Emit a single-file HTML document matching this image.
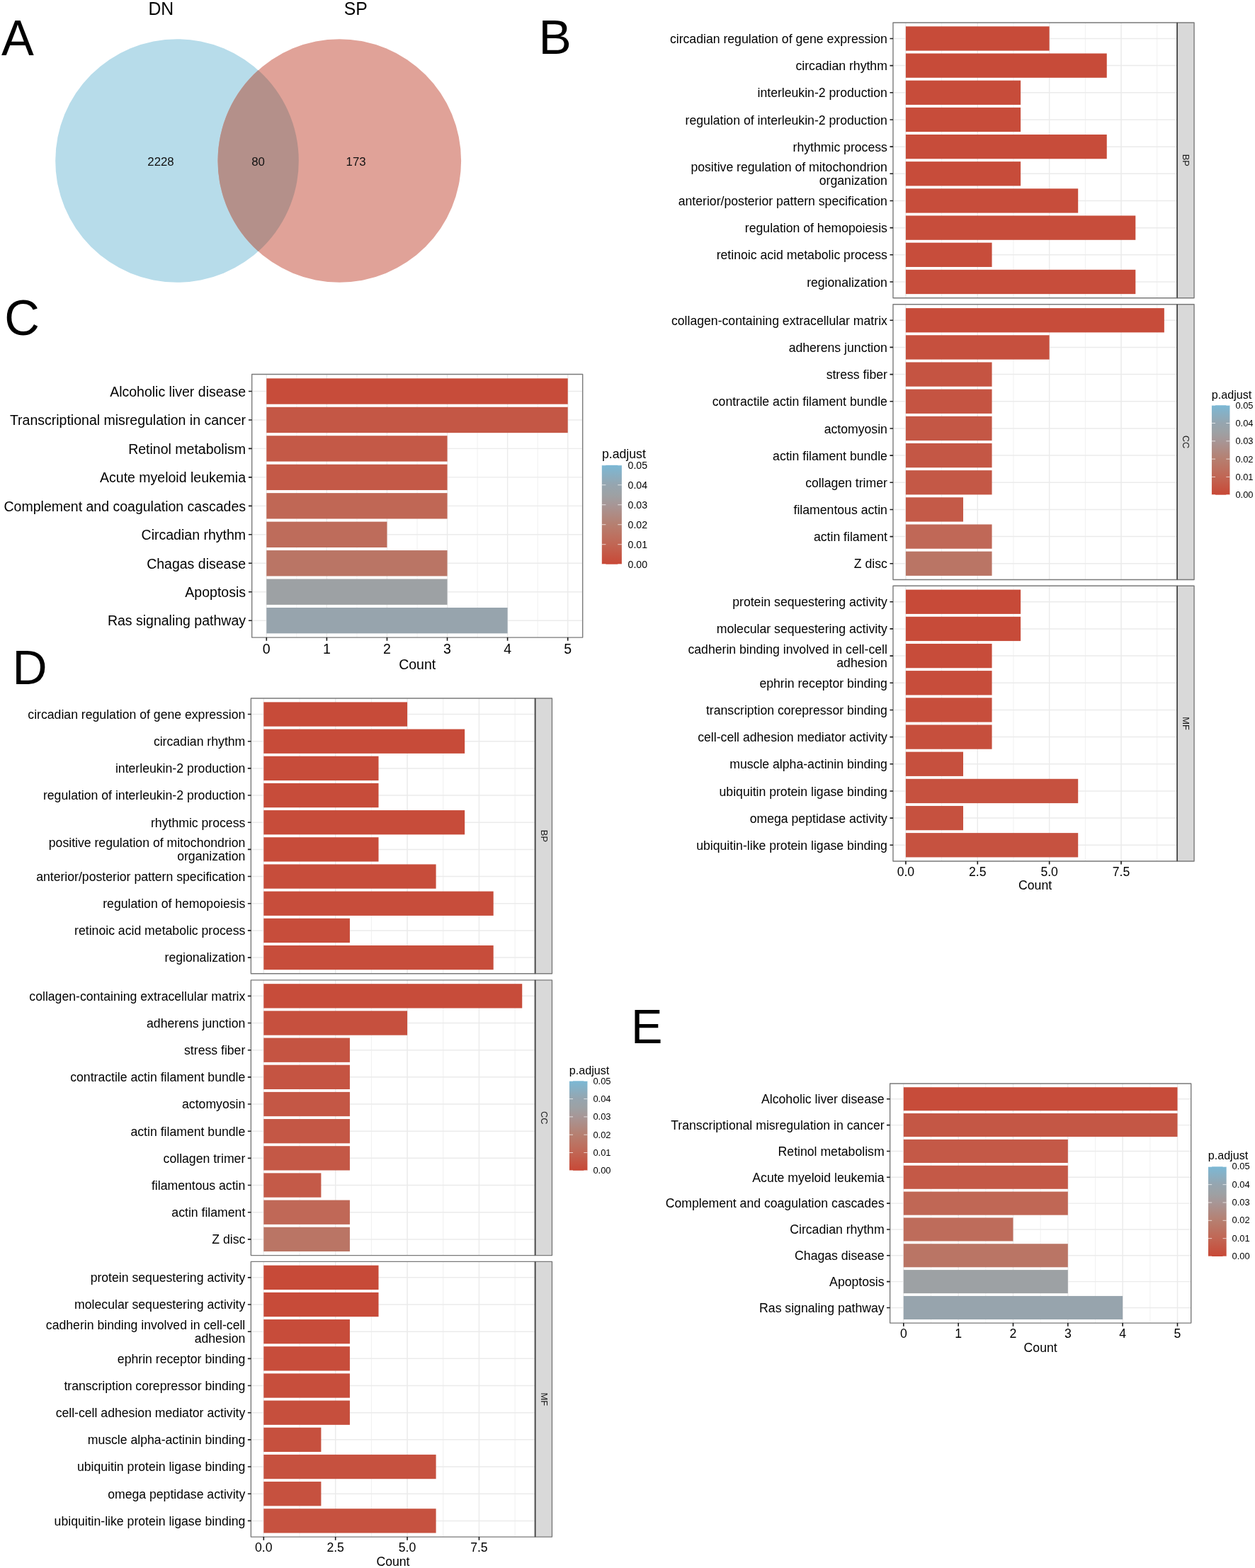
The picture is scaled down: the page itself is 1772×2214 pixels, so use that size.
<!DOCTYPE html>
<html lang="en">
<head>
<meta charset="utf-8">
<title>Figure: Venn diagram and GO / KEGG enrichment bar plots</title>
<style>
html,body{margin:0;padding:0;background:#fff;}
body{width:1772px;height:2214px;overflow:hidden;}
svg{display:block;font-family:"Liberation Sans",Arial,Helvetica,sans-serif;}
svg text{white-space:pre;}
</style>
</head>
<body>
<svg width="1772" height="2214" viewBox="0 0 1772 2214" role="img" aria-label="Venn diagram and enrichment bar plots">
<defs><linearGradient id="grad" x1="0" y1="0" x2="0" y2="1"><stop offset="0" stop-color="#7BB8D5"/><stop offset="0.2" stop-color="#96A5AF"/><stop offset="0.3" stop-color="#9DA1A4"/><stop offset="0.4" stop-color="#A79696"/><stop offset="0.6" stop-color="#B67F70"/><stop offset="0.8" stop-color="#C16654"/><stop offset="1" stop-color="#C84836"/></linearGradient></defs>
<rect width="1772" height="2214" fill="#fff"/>
<circle cx="250" cy="227" r="171.8" fill="#B7DCEA"/>
<circle cx="479.3" cy="227" r="171.8" fill="#E0A298"/>
<path d="M364.65 99.05A171.8 171.8 0 0 1 364.65 354.95A171.8 171.8 0 0 1 364.65 99.05Z" fill="#B4908A"/>
<text transform="translate(227.3 21.4) scale(1 1.03)" font-size="24.8" text-anchor="middle" fill="#000">DN</text>
<text transform="translate(502.3 21.4) scale(1 1.03)" font-size="24.8" text-anchor="middle" fill="#000">SP</text>
<text x="227" y="233.6" font-size="16.8" text-anchor="middle" fill="#111">2228</text>
<text x="364.6" y="233.6" font-size="16.8" text-anchor="middle" fill="#111">80</text>
<text x="502.6" y="233.6" font-size="16.8" text-anchor="middle" fill="#111">173</text>
<text transform="translate(2 77.7) scale(1.01 1.03)" font-size="68" fill="#000">A</text>
<text transform="translate(760.4 75.6) scale(1.02 1.02)" font-size="68" fill="#000">B</text>
<text transform="translate(6.2 473.3) scale(1.01 1.03)" font-size="68" fill="#000">C</text>
<text transform="translate(17.4 965.7) scale(1 1.02)" font-size="68" fill="#000">D</text>
<text transform="translate(890.9 1473) scale(0.98 1.02)" font-size="68" fill="#000">E</text>
<rect x="1260.96" y="31.95" width="401.24" height="388.75" fill="#fff"/>
<path d="M1329.59 31.95V420.7M1430.96 31.95V420.7M1532.34 31.95V420.7M1633.71 31.95V420.7" stroke="#EBEBEB" stroke-width="0.75" fill="none"/>
<path d="M1278.9 31.95V420.7M1380.28 31.95V420.7M1481.65 31.95V420.7M1583.03 31.95V420.7M1260.96 54.45H1662.2M1260.96 92.62H1662.2M1260.96 130.79H1662.2M1260.96 168.96H1662.2M1260.96 207.13H1662.2M1260.96 245.3H1662.2M1260.96 283.47H1662.2M1260.96 321.64H1662.2M1260.96 359.81H1662.2M1260.96 397.98H1662.2" stroke="#EBEBEB" stroke-width="1.5" fill="none"/>
<rect x="1278.9" y="37.3" width="202.75" height="34.3" fill="#C74B39"/>
<rect x="1278.9" y="75.47" width="283.85" height="34.3" fill="#C74B39"/>
<rect x="1278.9" y="113.64" width="162.2" height="34.3" fill="#C74C3A"/>
<rect x="1278.9" y="151.81" width="162.2" height="34.3" fill="#C74C3A"/>
<rect x="1278.9" y="189.98" width="283.85" height="34.3" fill="#C74C3A"/>
<rect x="1278.9" y="228.15" width="162.2" height="34.3" fill="#C74C3A"/>
<rect x="1278.9" y="266.32" width="243.3" height="34.3" fill="#C74D3B"/>
<rect x="1278.9" y="304.49" width="324.4" height="34.3" fill="#C74D3B"/>
<rect x="1278.9" y="342.66" width="121.65" height="34.3" fill="#C74D3B"/>
<rect x="1278.9" y="380.83" width="324.4" height="34.3" fill="#C74D3B"/>
<rect x="1662.2" y="31.95" width="23.85" height="388.75" fill="#D9D9D9" stroke="#7A7A7A" stroke-width="1.4" stroke-linejoin="round"/>
<text transform="translate(1674.92 226.32) rotate(90)" font-size="12.9" text-anchor="middle" fill="#1A1A1A" y="4.62">BP</text>
<rect x="1260.96" y="31.95" width="401.24" height="388.75" fill="none" stroke="#7A7A7A" stroke-width="1.4" stroke-linejoin="round"/>
<path d="M1662.2 31.95V420.7" stroke="#454545" stroke-width="1.6" fill="none"/>
<text x="1252.9" y="61.02" font-size="17.65" text-anchor="end" fill="#000">circadian regulation of gene expression</text>
<text x="1252.9" y="99.19" font-size="17.65" text-anchor="end" fill="#000">circadian rhythm</text>
<text x="1252.9" y="137.36" font-size="17.65" text-anchor="end" fill="#000">interleukin-2 production</text>
<text x="1252.9" y="175.53" font-size="17.65" text-anchor="end" fill="#000">regulation of interleukin-2 production</text>
<text x="1252.9" y="213.7" font-size="17.65" text-anchor="end" fill="#000">rhythmic process</text>
<text x="1252.9" y="242.42" font-size="17.65" text-anchor="end" fill="#000">positive regulation of mitochondrion</text>
<text x="1252.9" y="261.32" font-size="17.65" text-anchor="end" fill="#000">organization</text>
<text x="1252.9" y="290.04" font-size="17.65" text-anchor="end" fill="#000">anterior/posterior pattern specification</text>
<text x="1252.9" y="328.21" font-size="17.65" text-anchor="end" fill="#000">regulation of hemopoiesis</text>
<text x="1252.9" y="366.38" font-size="17.65" text-anchor="end" fill="#000">retinoic acid metabolic process</text>
<text x="1252.9" y="404.55" font-size="17.65" text-anchor="end" fill="#000">regionalization</text>
<path d="M1256.46 54.45h4.5M1256.46 92.62h4.5M1256.46 130.79h4.5M1256.46 168.96h4.5M1256.46 207.13h4.5M1256.46 245.3h4.5M1256.46 283.47h4.5M1256.46 321.64h4.5M1256.46 359.81h4.5M1256.46 397.98h4.5" stroke="#1A1A1A" stroke-width="1.6" fill="none"/>
<rect x="1260.96" y="429.75" width="401.24" height="388.75" fill="#fff"/>
<path d="M1329.59 429.75V818.5M1430.96 429.75V818.5M1532.34 429.75V818.5M1633.71 429.75V818.5" stroke="#EBEBEB" stroke-width="0.75" fill="none"/>
<path d="M1278.9 429.75V818.5M1380.28 429.75V818.5M1481.65 429.75V818.5M1583.03 429.75V818.5M1260.96 452.25H1662.2M1260.96 490.42H1662.2M1260.96 528.59H1662.2M1260.96 566.76H1662.2M1260.96 604.93H1662.2M1260.96 643.1H1662.2M1260.96 681.27H1662.2M1260.96 719.44H1662.2M1260.96 757.61H1662.2M1260.96 795.78H1662.2" stroke="#EBEBEB" stroke-width="1.5" fill="none"/>
<rect x="1278.9" y="435.1" width="364.95" height="34.3" fill="#C74C3A"/>
<rect x="1278.9" y="473.27" width="202.75" height="34.3" fill="#C6503E"/>
<rect x="1278.9" y="511.44" width="121.65" height="34.3" fill="#C55442"/>
<rect x="1278.9" y="549.61" width="121.65" height="34.3" fill="#C55442"/>
<rect x="1278.9" y="587.78" width="121.65" height="34.3" fill="#C45745"/>
<rect x="1278.9" y="625.95" width="121.65" height="34.3" fill="#C45745"/>
<rect x="1278.9" y="664.12" width="121.65" height="34.3" fill="#C45846"/>
<rect x="1278.9" y="702.29" width="81.1" height="34.3" fill="#C45A48"/>
<rect x="1278.9" y="740.46" width="121.65" height="34.3" fill="#C06857"/>
<rect x="1278.9" y="778.63" width="121.65" height="34.3" fill="#BA7565"/>
<rect x="1662.2" y="429.75" width="23.85" height="388.75" fill="#D9D9D9" stroke="#7A7A7A" stroke-width="1.4" stroke-linejoin="round"/>
<text transform="translate(1674.92 624.12) rotate(90)" font-size="12.9" text-anchor="middle" fill="#1A1A1A" y="4.62">CC</text>
<rect x="1260.96" y="429.75" width="401.24" height="388.75" fill="none" stroke="#7A7A7A" stroke-width="1.4" stroke-linejoin="round"/>
<path d="M1662.2 429.75V818.5" stroke="#454545" stroke-width="1.6" fill="none"/>
<text x="1252.9" y="458.82" font-size="17.65" text-anchor="end" fill="#000">collagen-containing extracellular matrix</text>
<text x="1252.9" y="496.99" font-size="17.65" text-anchor="end" fill="#000">adherens junction</text>
<text x="1252.9" y="535.16" font-size="17.65" text-anchor="end" fill="#000">stress fiber</text>
<text x="1252.9" y="573.33" font-size="17.65" text-anchor="end" fill="#000">contractile actin filament bundle</text>
<text x="1252.9" y="611.5" font-size="17.65" text-anchor="end" fill="#000">actomyosin</text>
<text x="1252.9" y="649.67" font-size="17.65" text-anchor="end" fill="#000">actin filament bundle</text>
<text x="1252.9" y="687.84" font-size="17.65" text-anchor="end" fill="#000">collagen trimer</text>
<text x="1252.9" y="726.01" font-size="17.65" text-anchor="end" fill="#000">filamentous actin</text>
<text x="1252.9" y="764.18" font-size="17.65" text-anchor="end" fill="#000">actin filament</text>
<text x="1252.9" y="802.35" font-size="17.65" text-anchor="end" fill="#000">Z disc</text>
<path d="M1256.46 452.25h4.5M1256.46 490.42h4.5M1256.46 528.59h4.5M1256.46 566.76h4.5M1256.46 604.93h4.5M1256.46 643.1h4.5M1256.46 681.27h4.5M1256.46 719.44h4.5M1256.46 757.61h4.5M1256.46 795.78h4.5" stroke="#1A1A1A" stroke-width="1.6" fill="none"/>
<rect x="1260.96" y="827.25" width="401.24" height="388.75" fill="#fff"/>
<path d="M1329.59 827.25V1216M1430.96 827.25V1216M1532.34 827.25V1216M1633.71 827.25V1216" stroke="#EBEBEB" stroke-width="0.75" fill="none"/>
<path d="M1278.9 827.25V1216M1380.28 827.25V1216M1481.65 827.25V1216M1583.03 827.25V1216M1260.96 849.75H1662.2M1260.96 887.92H1662.2M1260.96 926.09H1662.2M1260.96 964.26H1662.2M1260.96 1002.43H1662.2M1260.96 1040.6H1662.2M1260.96 1078.77H1662.2M1260.96 1116.94H1662.2M1260.96 1155.11H1662.2M1260.96 1193.28H1662.2" stroke="#EBEBEB" stroke-width="1.5" fill="none"/>
<rect x="1278.9" y="832.6" width="162.2" height="34.3" fill="#C74A38"/>
<rect x="1278.9" y="870.77" width="162.2" height="34.3" fill="#C74B39"/>
<rect x="1278.9" y="908.94" width="121.65" height="34.3" fill="#C74C3A"/>
<rect x="1278.9" y="947.11" width="121.65" height="34.3" fill="#C74D3B"/>
<rect x="1278.9" y="985.28" width="121.65" height="34.3" fill="#C74E3C"/>
<rect x="1278.9" y="1023.45" width="121.65" height="34.3" fill="#C64F3D"/>
<rect x="1278.9" y="1061.62" width="81.1" height="34.3" fill="#C6503E"/>
<rect x="1278.9" y="1099.79" width="243.3" height="34.3" fill="#C6513F"/>
<rect x="1278.9" y="1137.96" width="81.1" height="34.3" fill="#C6513F"/>
<rect x="1278.9" y="1176.13" width="243.3" height="34.3" fill="#C65240"/>
<rect x="1662.2" y="827.25" width="23.85" height="388.75" fill="#D9D9D9" stroke="#7A7A7A" stroke-width="1.4" stroke-linejoin="round"/>
<text transform="translate(1674.92 1021.62) rotate(90)" font-size="12.9" text-anchor="middle" fill="#1A1A1A" y="4.62">MF</text>
<rect x="1260.96" y="827.25" width="401.24" height="388.75" fill="none" stroke="#7A7A7A" stroke-width="1.4" stroke-linejoin="round"/>
<path d="M1662.2 827.25V1216" stroke="#454545" stroke-width="1.6" fill="none"/>
<text x="1252.9" y="856.32" font-size="17.65" text-anchor="end" fill="#000">protein sequestering activity</text>
<text x="1252.9" y="894.49" font-size="17.65" text-anchor="end" fill="#000">molecular sequestering activity</text>
<text x="1252.9" y="923.21" font-size="17.65" text-anchor="end" fill="#000">cadherin binding involved in cell-cell</text>
<text x="1252.9" y="942.11" font-size="17.65" text-anchor="end" fill="#000">adhesion</text>
<text x="1252.9" y="970.83" font-size="17.65" text-anchor="end" fill="#000">ephrin receptor binding</text>
<text x="1252.9" y="1009" font-size="17.65" text-anchor="end" fill="#000">transcription corepressor binding</text>
<text x="1252.9" y="1047.17" font-size="17.65" text-anchor="end" fill="#000">cell-cell adhesion mediator activity</text>
<text x="1252.9" y="1085.34" font-size="17.65" text-anchor="end" fill="#000">muscle alpha-actinin binding</text>
<text x="1252.9" y="1123.51" font-size="17.65" text-anchor="end" fill="#000">ubiquitin protein ligase binding</text>
<text x="1252.9" y="1161.68" font-size="17.65" text-anchor="end" fill="#000">omega peptidase activity</text>
<text x="1252.9" y="1199.85" font-size="17.65" text-anchor="end" fill="#000">ubiquitin-like protein ligase binding</text>
<path d="M1256.46 849.75h4.5M1256.46 887.92h4.5M1256.46 926.09h4.5M1256.46 964.26h4.5M1256.46 1002.43h4.5M1256.46 1040.6h4.5M1256.46 1078.77h4.5M1256.46 1116.94h4.5M1256.46 1155.11h4.5M1256.46 1193.28h4.5" stroke="#1A1A1A" stroke-width="1.6" fill="none"/>
<text x="1278.9" y="1236.7" font-size="17.65" text-anchor="middle" fill="#000">0.0</text>
<text x="1380.28" y="1236.7" font-size="17.65" text-anchor="middle" fill="#000">2.5</text>
<text x="1481.65" y="1236.7" font-size="17.65" text-anchor="middle" fill="#000">5.0</text>
<text x="1583.03" y="1236.7" font-size="17.65" text-anchor="middle" fill="#000">7.5</text>
<path d="M1278.9 1216v4.6M1380.28 1216v4.6M1481.65 1216v4.6M1583.03 1216v4.6" stroke="#1A1A1A" stroke-width="1.6" fill="none"/>
<text x="1461.58" y="1256.3" font-size="17.65" text-anchor="middle" fill="#000">Count</text>
<rect x="1710.92" y="572.24" width="25.51" height="126.46" fill="url(#grad)"/>
<path d="M1710.92 698.7h5.1 M1731.33 698.7h5.1" stroke="#fff" stroke-opacity="0.7" stroke-width="1" fill="none"/>
<text x="1744.43" y="703.15" font-size="12.9" text-anchor="start" fill="#000">0.00</text>
<path d="M1710.92 673.41h5.1 M1731.33 673.41h5.1" stroke="#fff" stroke-opacity="0.7" stroke-width="1" fill="none"/>
<text x="1744.43" y="677.86" font-size="12.9" text-anchor="start" fill="#000">0.01</text>
<path d="M1710.92 648.12h5.1 M1731.33 648.12h5.1" stroke="#fff" stroke-opacity="0.7" stroke-width="1" fill="none"/>
<text x="1744.43" y="652.57" font-size="12.9" text-anchor="start" fill="#000">0.02</text>
<path d="M1710.92 622.82h5.1 M1731.33 622.82h5.1" stroke="#fff" stroke-opacity="0.7" stroke-width="1" fill="none"/>
<text x="1744.43" y="627.27" font-size="12.9" text-anchor="start" fill="#000">0.03</text>
<path d="M1710.92 597.53h5.1 M1731.33 597.53h5.1" stroke="#fff" stroke-opacity="0.7" stroke-width="1" fill="none"/>
<text x="1744.43" y="601.98" font-size="12.9" text-anchor="start" fill="#000">0.04</text>
<path d="M1710.92 572.24h5.1 M1731.33 572.24h5.1" stroke="#fff" stroke-opacity="0.7" stroke-width="1" fill="none"/>
<text x="1744.43" y="576.69" font-size="12.9" text-anchor="start" fill="#000">0.05</text>
<text x="1710.82" y="562.54" font-size="16.1" text-anchor="start" fill="#000">p.adjust</text>
<rect x="354.36" y="986.05" width="401.24" height="388.75" fill="#fff"/>
<path d="M422.99 986.05V1374.8M524.36 986.05V1374.8M625.74 986.05V1374.8M727.11 986.05V1374.8" stroke="#EBEBEB" stroke-width="0.75" fill="none"/>
<path d="M372.3 986.05V1374.8M473.68 986.05V1374.8M575.05 986.05V1374.8M676.43 986.05V1374.8M354.36 1008.55H755.6M354.36 1046.72H755.6M354.36 1084.89H755.6M354.36 1123.06H755.6M354.36 1161.23H755.6M354.36 1199.4H755.6M354.36 1237.57H755.6M354.36 1275.74H755.6M354.36 1313.91H755.6M354.36 1352.08H755.6" stroke="#EBEBEB" stroke-width="1.5" fill="none"/>
<rect x="372.3" y="991.4" width="202.75" height="34.3" fill="#C74B39"/>
<rect x="372.3" y="1029.57" width="283.85" height="34.3" fill="#C74B39"/>
<rect x="372.3" y="1067.74" width="162.2" height="34.3" fill="#C74C3A"/>
<rect x="372.3" y="1105.91" width="162.2" height="34.3" fill="#C74C3A"/>
<rect x="372.3" y="1144.08" width="283.85" height="34.3" fill="#C74C3A"/>
<rect x="372.3" y="1182.25" width="162.2" height="34.3" fill="#C74C3A"/>
<rect x="372.3" y="1220.42" width="243.3" height="34.3" fill="#C74D3B"/>
<rect x="372.3" y="1258.59" width="324.4" height="34.3" fill="#C74D3B"/>
<rect x="372.3" y="1296.76" width="121.65" height="34.3" fill="#C74D3B"/>
<rect x="372.3" y="1334.93" width="324.4" height="34.3" fill="#C74D3B"/>
<rect x="755.6" y="986.05" width="23.85" height="388.75" fill="#D9D9D9" stroke="#7A7A7A" stroke-width="1.4" stroke-linejoin="round"/>
<text transform="translate(768.32 1180.43) rotate(90)" font-size="12.9" text-anchor="middle" fill="#1A1A1A" y="4.62">BP</text>
<rect x="354.36" y="986.05" width="401.24" height="388.75" fill="none" stroke="#7A7A7A" stroke-width="1.4" stroke-linejoin="round"/>
<path d="M755.6 986.05V1374.8" stroke="#454545" stroke-width="1.6" fill="none"/>
<text x="346.3" y="1014.92" font-size="17.65" text-anchor="end" fill="#000">circadian regulation of gene expression</text>
<text x="346.3" y="1053.09" font-size="17.65" text-anchor="end" fill="#000">circadian rhythm</text>
<text x="346.3" y="1091.26" font-size="17.65" text-anchor="end" fill="#000">interleukin-2 production</text>
<text x="346.3" y="1129.43" font-size="17.65" text-anchor="end" fill="#000">regulation of interleukin-2 production</text>
<text x="346.3" y="1167.6" font-size="17.65" text-anchor="end" fill="#000">rhythmic process</text>
<text x="346.3" y="1196.32" font-size="17.65" text-anchor="end" fill="#000">positive regulation of mitochondrion</text>
<text x="346.3" y="1215.22" font-size="17.65" text-anchor="end" fill="#000">organization</text>
<text x="346.3" y="1243.94" font-size="17.65" text-anchor="end" fill="#000">anterior/posterior pattern specification</text>
<text x="346.3" y="1282.11" font-size="17.65" text-anchor="end" fill="#000">regulation of hemopoiesis</text>
<text x="346.3" y="1320.28" font-size="17.65" text-anchor="end" fill="#000">retinoic acid metabolic process</text>
<text x="346.3" y="1358.45" font-size="17.65" text-anchor="end" fill="#000">regionalization</text>
<path d="M349.86 1008.55h4.5M349.86 1046.72h4.5M349.86 1084.89h4.5M349.86 1123.06h4.5M349.86 1161.23h4.5M349.86 1199.4h4.5M349.86 1237.57h4.5M349.86 1275.74h4.5M349.86 1313.91h4.5M349.86 1352.08h4.5" stroke="#1A1A1A" stroke-width="1.6" fill="none"/>
<rect x="354.36" y="1383.85" width="401.24" height="388.75" fill="#fff"/>
<path d="M422.99 1383.85V1772.6M524.36 1383.85V1772.6M625.74 1383.85V1772.6M727.11 1383.85V1772.6" stroke="#EBEBEB" stroke-width="0.75" fill="none"/>
<path d="M372.3 1383.85V1772.6M473.68 1383.85V1772.6M575.05 1383.85V1772.6M676.43 1383.85V1772.6M354.36 1406.35H755.6M354.36 1444.52H755.6M354.36 1482.69H755.6M354.36 1520.86H755.6M354.36 1559.03H755.6M354.36 1597.2H755.6M354.36 1635.37H755.6M354.36 1673.54H755.6M354.36 1711.71H755.6M354.36 1749.88H755.6" stroke="#EBEBEB" stroke-width="1.5" fill="none"/>
<rect x="372.3" y="1389.2" width="364.95" height="34.3" fill="#C74C3A"/>
<rect x="372.3" y="1427.37" width="202.75" height="34.3" fill="#C6503E"/>
<rect x="372.3" y="1465.54" width="121.65" height="34.3" fill="#C55442"/>
<rect x="372.3" y="1503.71" width="121.65" height="34.3" fill="#C55442"/>
<rect x="372.3" y="1541.88" width="121.65" height="34.3" fill="#C45745"/>
<rect x="372.3" y="1580.05" width="121.65" height="34.3" fill="#C45745"/>
<rect x="372.3" y="1618.22" width="121.65" height="34.3" fill="#C45846"/>
<rect x="372.3" y="1656.39" width="81.1" height="34.3" fill="#C45A48"/>
<rect x="372.3" y="1694.56" width="121.65" height="34.3" fill="#C06857"/>
<rect x="372.3" y="1732.73" width="121.65" height="34.3" fill="#BA7565"/>
<rect x="755.6" y="1383.85" width="23.85" height="388.75" fill="#D9D9D9" stroke="#7A7A7A" stroke-width="1.4" stroke-linejoin="round"/>
<text transform="translate(768.32 1578.22) rotate(90)" font-size="12.9" text-anchor="middle" fill="#1A1A1A" y="4.62">CC</text>
<rect x="354.36" y="1383.85" width="401.24" height="388.75" fill="none" stroke="#7A7A7A" stroke-width="1.4" stroke-linejoin="round"/>
<path d="M755.6 1383.85V1772.6" stroke="#454545" stroke-width="1.6" fill="none"/>
<text x="346.3" y="1412.72" font-size="17.65" text-anchor="end" fill="#000">collagen-containing extracellular matrix</text>
<text x="346.3" y="1450.89" font-size="17.65" text-anchor="end" fill="#000">adherens junction</text>
<text x="346.3" y="1489.06" font-size="17.65" text-anchor="end" fill="#000">stress fiber</text>
<text x="346.3" y="1527.23" font-size="17.65" text-anchor="end" fill="#000">contractile actin filament bundle</text>
<text x="346.3" y="1565.4" font-size="17.65" text-anchor="end" fill="#000">actomyosin</text>
<text x="346.3" y="1603.57" font-size="17.65" text-anchor="end" fill="#000">actin filament bundle</text>
<text x="346.3" y="1641.74" font-size="17.65" text-anchor="end" fill="#000">collagen trimer</text>
<text x="346.3" y="1679.91" font-size="17.65" text-anchor="end" fill="#000">filamentous actin</text>
<text x="346.3" y="1718.08" font-size="17.65" text-anchor="end" fill="#000">actin filament</text>
<text x="346.3" y="1756.25" font-size="17.65" text-anchor="end" fill="#000">Z disc</text>
<path d="M349.86 1406.35h4.5M349.86 1444.52h4.5M349.86 1482.69h4.5M349.86 1520.86h4.5M349.86 1559.03h4.5M349.86 1597.2h4.5M349.86 1635.37h4.5M349.86 1673.54h4.5M349.86 1711.71h4.5M349.86 1749.88h4.5" stroke="#1A1A1A" stroke-width="1.6" fill="none"/>
<rect x="354.36" y="1781.35" width="401.24" height="388.75" fill="#fff"/>
<path d="M422.99 1781.35V2170.1M524.36 1781.35V2170.1M625.74 1781.35V2170.1M727.11 1781.35V2170.1" stroke="#EBEBEB" stroke-width="0.75" fill="none"/>
<path d="M372.3 1781.35V2170.1M473.68 1781.35V2170.1M575.05 1781.35V2170.1M676.43 1781.35V2170.1M354.36 1803.85H755.6M354.36 1842.02H755.6M354.36 1880.19H755.6M354.36 1918.36H755.6M354.36 1956.53H755.6M354.36 1994.7H755.6M354.36 2032.87H755.6M354.36 2071.04H755.6M354.36 2109.21H755.6M354.36 2147.38H755.6" stroke="#EBEBEB" stroke-width="1.5" fill="none"/>
<rect x="372.3" y="1786.7" width="162.2" height="34.3" fill="#C74A38"/>
<rect x="372.3" y="1824.87" width="162.2" height="34.3" fill="#C74B39"/>
<rect x="372.3" y="1863.04" width="121.65" height="34.3" fill="#C74C3A"/>
<rect x="372.3" y="1901.21" width="121.65" height="34.3" fill="#C74D3B"/>
<rect x="372.3" y="1939.38" width="121.65" height="34.3" fill="#C74E3C"/>
<rect x="372.3" y="1977.55" width="121.65" height="34.3" fill="#C64F3D"/>
<rect x="372.3" y="2015.72" width="81.1" height="34.3" fill="#C6503E"/>
<rect x="372.3" y="2053.89" width="243.3" height="34.3" fill="#C6513F"/>
<rect x="372.3" y="2092.06" width="81.1" height="34.3" fill="#C6513F"/>
<rect x="372.3" y="2130.23" width="243.3" height="34.3" fill="#C65240"/>
<rect x="755.6" y="1781.35" width="23.85" height="388.75" fill="#D9D9D9" stroke="#7A7A7A" stroke-width="1.4" stroke-linejoin="round"/>
<text transform="translate(768.32 1975.72) rotate(90)" font-size="12.9" text-anchor="middle" fill="#1A1A1A" y="4.62">MF</text>
<rect x="354.36" y="1781.35" width="401.24" height="388.75" fill="none" stroke="#7A7A7A" stroke-width="1.4" stroke-linejoin="round"/>
<path d="M755.6 1781.35V2170.1" stroke="#454545" stroke-width="1.6" fill="none"/>
<text x="346.3" y="1810.22" font-size="17.65" text-anchor="end" fill="#000">protein sequestering activity</text>
<text x="346.3" y="1848.39" font-size="17.65" text-anchor="end" fill="#000">molecular sequestering activity</text>
<text x="346.3" y="1877.11" font-size="17.65" text-anchor="end" fill="#000">cadherin binding involved in cell-cell</text>
<text x="346.3" y="1896.01" font-size="17.65" text-anchor="end" fill="#000">adhesion</text>
<text x="346.3" y="1924.73" font-size="17.65" text-anchor="end" fill="#000">ephrin receptor binding</text>
<text x="346.3" y="1962.9" font-size="17.65" text-anchor="end" fill="#000">transcription corepressor binding</text>
<text x="346.3" y="2001.07" font-size="17.65" text-anchor="end" fill="#000">cell-cell adhesion mediator activity</text>
<text x="346.3" y="2039.24" font-size="17.65" text-anchor="end" fill="#000">muscle alpha-actinin binding</text>
<text x="346.3" y="2077.41" font-size="17.65" text-anchor="end" fill="#000">ubiquitin protein ligase binding</text>
<text x="346.3" y="2115.58" font-size="17.65" text-anchor="end" fill="#000">omega peptidase activity</text>
<text x="346.3" y="2153.75" font-size="17.65" text-anchor="end" fill="#000">ubiquitin-like protein ligase binding</text>
<path d="M349.86 1803.85h4.5M349.86 1842.02h4.5M349.86 1880.19h4.5M349.86 1918.36h4.5M349.86 1956.53h4.5M349.86 1994.7h4.5M349.86 2032.87h4.5M349.86 2071.04h4.5M349.86 2109.21h4.5M349.86 2147.38h4.5" stroke="#1A1A1A" stroke-width="1.6" fill="none"/>
<text x="372.3" y="2190.8" font-size="17.65" text-anchor="middle" fill="#000">0.0</text>
<text x="473.68" y="2190.8" font-size="17.65" text-anchor="middle" fill="#000">2.5</text>
<text x="575.05" y="2190.8" font-size="17.65" text-anchor="middle" fill="#000">5.0</text>
<text x="676.43" y="2190.8" font-size="17.65" text-anchor="middle" fill="#000">7.5</text>
<path d="M372.3 2170.1v4.6M473.68 2170.1v4.6M575.05 2170.1v4.6M676.43 2170.1v4.6" stroke="#1A1A1A" stroke-width="1.6" fill="none"/>
<text x="554.98" y="2210.9" font-size="17.65" text-anchor="middle" fill="#000">Count</text>
<rect x="803.92" y="1526.34" width="25.51" height="126.46" fill="url(#grad)"/>
<path d="M803.92 1652.8h5.1 M824.33 1652.8h5.1" stroke="#fff" stroke-opacity="0.7" stroke-width="1" fill="none"/>
<text x="837.43" y="1657.25" font-size="12.9" text-anchor="start" fill="#000">0.00</text>
<path d="M803.92 1627.51h5.1 M824.33 1627.51h5.1" stroke="#fff" stroke-opacity="0.7" stroke-width="1" fill="none"/>
<text x="837.43" y="1631.96" font-size="12.9" text-anchor="start" fill="#000">0.01</text>
<path d="M803.92 1602.22h5.1 M824.33 1602.22h5.1" stroke="#fff" stroke-opacity="0.7" stroke-width="1" fill="none"/>
<text x="837.43" y="1606.67" font-size="12.9" text-anchor="start" fill="#000">0.02</text>
<path d="M803.92 1576.92h5.1 M824.33 1576.92h5.1" stroke="#fff" stroke-opacity="0.7" stroke-width="1" fill="none"/>
<text x="837.43" y="1581.37" font-size="12.9" text-anchor="start" fill="#000">0.03</text>
<path d="M803.92 1551.63h5.1 M824.33 1551.63h5.1" stroke="#fff" stroke-opacity="0.7" stroke-width="1" fill="none"/>
<text x="837.43" y="1556.08" font-size="12.9" text-anchor="start" fill="#000">0.04</text>
<path d="M803.92 1526.34h5.1 M824.33 1526.34h5.1" stroke="#fff" stroke-opacity="0.7" stroke-width="1" fill="none"/>
<text x="837.43" y="1530.79" font-size="12.9" text-anchor="start" fill="#000">0.05</text>
<text x="803.82" y="1516.64" font-size="16.1" text-anchor="start" fill="#000">p.adjust</text>
<rect x="355.64" y="528.52" width="467.04" height="371.57" fill="#fff"/>
<path d="M418.84 528.52V900.09M503.92 528.52V900.09M589 528.52V900.09M674.08 528.52V900.09M759.16 528.52V900.09" stroke="#EBEBEB" stroke-width="0.7" fill="none"/>
<path d="M376.3 528.52V900.09M461.38 528.52V900.09M546.46 528.52V900.09M631.54 528.52V900.09M716.62 528.52V900.09M801.7 528.52V900.09M355.64 552.5H822.68M355.64 592.96H822.68M355.64 633.42H822.68M355.64 673.88H822.68M355.64 714.34H822.68M355.64 754.8H822.68M355.64 795.26H822.68M355.64 835.72H822.68M355.64 876.18H822.68" stroke="#EBEBEB" stroke-width="1.4" fill="none"/>
<rect x="376.3" y="534.33" width="425.4" height="36.35" fill="#C74C3A"/>
<rect x="376.3" y="574.79" width="425.4" height="36.35" fill="#C45745"/>
<rect x="376.3" y="615.25" width="255.24" height="36.35" fill="#C45947"/>
<rect x="376.3" y="655.71" width="255.24" height="36.35" fill="#C45947"/>
<rect x="376.3" y="696.17" width="255.24" height="36.35" fill="#C06755"/>
<rect x="376.3" y="736.63" width="170.16" height="36.35" fill="#BE6C5B"/>
<rect x="376.3" y="777.09" width="255.24" height="36.35" fill="#BA7565"/>
<rect x="376.3" y="817.55" width="255.24" height="36.35" fill="#9DA1A4"/>
<rect x="376.3" y="858.01" width="340.32" height="36.35" fill="#97A4AD"/>
<rect x="355.64" y="528.52" width="467.04" height="371.57" fill="none" stroke="#7A7A7A" stroke-width="1.4" stroke-linejoin="round"/>
<text x="347" y="559.78" font-size="19.5" text-anchor="end" fill="#000">Alcoholic liver disease</text>
<text x="347" y="600.24" font-size="19.5" text-anchor="end" fill="#000">Transcriptional misregulation in cancer</text>
<text x="347" y="640.7" font-size="19.5" text-anchor="end" fill="#000">Retinol metabolism</text>
<text x="347" y="681.16" font-size="19.5" text-anchor="end" fill="#000">Acute myeloid leukemia</text>
<text x="347" y="721.62" font-size="19.5" text-anchor="end" fill="#000">Complement and coagulation cascades</text>
<text x="347" y="762.08" font-size="19.5" text-anchor="end" fill="#000">Circadian rhythm</text>
<text x="347" y="802.54" font-size="19.5" text-anchor="end" fill="#000">Chagas disease</text>
<text x="347" y="843" font-size="19.5" text-anchor="end" fill="#000">Apoptosis</text>
<text x="347" y="883.46" font-size="19.5" text-anchor="end" fill="#000">Ras signaling pathway</text>
<path d="M350.94 552.5h4.7M350.94 592.96h4.7M350.94 633.42h4.7M350.94 673.88h4.7M350.94 714.34h4.7M350.94 754.8h4.7M350.94 795.26h4.7M350.94 835.72h4.7M350.94 876.18h4.7" stroke="#1A1A1A" stroke-width="1.6" fill="none"/>
<text x="376.3" y="923.1" font-size="19.5" text-anchor="middle" fill="#000">0</text>
<text x="461.38" y="923.1" font-size="19.5" text-anchor="middle" fill="#000">1</text>
<text x="546.46" y="923.1" font-size="19.5" text-anchor="middle" fill="#000">2</text>
<text x="631.54" y="923.1" font-size="19.5" text-anchor="middle" fill="#000">3</text>
<text x="716.62" y="923.1" font-size="19.5" text-anchor="middle" fill="#000">4</text>
<text x="801.7" y="923.1" font-size="19.5" text-anchor="middle" fill="#000">5</text>
<path d="M376.3 900.09v4.7M461.38 900.09v4.7M546.46 900.09v4.7M631.54 900.09v4.7M716.62 900.09v4.7M801.7 900.09v4.7" stroke="#1A1A1A" stroke-width="1.6" fill="none"/>
<text x="589.16" y="944.75" font-size="19.5" text-anchor="middle" fill="#000">Count</text>
<rect x="849.8" y="656.8" width="28.1" height="139.9" fill="url(#grad)"/>
<path d="M849.8 796.7h5.62 M872.28 796.7h5.62" stroke="#fff" stroke-opacity="0.7" stroke-width="1" fill="none"/>
<text x="886.6" y="801.56" font-size="14.1" text-anchor="start" fill="#000">0.00</text>
<path d="M849.8 768.72h5.62 M872.28 768.72h5.62" stroke="#fff" stroke-opacity="0.7" stroke-width="1" fill="none"/>
<text x="886.6" y="773.58" font-size="14.1" text-anchor="start" fill="#000">0.01</text>
<path d="M849.8 740.74h5.62 M872.28 740.74h5.62" stroke="#fff" stroke-opacity="0.7" stroke-width="1" fill="none"/>
<text x="886.6" y="745.6" font-size="14.1" text-anchor="start" fill="#000">0.02</text>
<path d="M849.8 712.76h5.62 M872.28 712.76h5.62" stroke="#fff" stroke-opacity="0.7" stroke-width="1" fill="none"/>
<text x="886.6" y="717.62" font-size="14.1" text-anchor="start" fill="#000">0.03</text>
<path d="M849.8 684.78h5.62 M872.28 684.78h5.62" stroke="#fff" stroke-opacity="0.7" stroke-width="1" fill="none"/>
<text x="886.6" y="689.64" font-size="14.1" text-anchor="start" fill="#000">0.04</text>
<path d="M849.8 656.8h5.62 M872.28 656.8h5.62" stroke="#fff" stroke-opacity="0.7" stroke-width="1" fill="none"/>
<text x="886.6" y="661.66" font-size="14.1" text-anchor="start" fill="#000">0.05</text>
<text x="849.9" y="647" font-size="17.7" text-anchor="start" fill="#000">p.adjust</text>
<rect x="1256.62" y="1529.95" width="425.08" height="338.15" fill="#fff"/>
<path d="M1314.47 1529.95V1868.1M1391.81 1529.95V1868.1M1469.15 1529.95V1868.1M1546.49 1529.95V1868.1M1623.83 1529.95V1868.1" stroke="#EBEBEB" stroke-width="0.7" fill="none"/>
<path d="M1275.8 1529.95V1868.1M1353.14 1529.95V1868.1M1430.48 1529.95V1868.1M1507.82 1529.95V1868.1M1585.16 1529.95V1868.1M1662.5 1529.95V1868.1M1256.62 1551.75H1681.7M1256.62 1588.59H1681.7M1256.62 1625.43H1681.7M1256.62 1662.27H1681.7M1256.62 1699.11H1681.7M1256.62 1735.95H1681.7M1256.62 1772.79H1681.7M1256.62 1809.63H1681.7M1256.62 1846.47H1681.7" stroke="#EBEBEB" stroke-width="1.4" fill="none"/>
<rect x="1275.8" y="1535.21" width="386.7" height="33.08" fill="#C74C3A"/>
<rect x="1275.8" y="1572.05" width="386.7" height="33.08" fill="#C45745"/>
<rect x="1275.8" y="1608.89" width="232.02" height="33.08" fill="#C45947"/>
<rect x="1275.8" y="1645.73" width="232.02" height="33.08" fill="#C45947"/>
<rect x="1275.8" y="1682.57" width="232.02" height="33.08" fill="#C06755"/>
<rect x="1275.8" y="1719.41" width="154.68" height="33.08" fill="#BE6C5B"/>
<rect x="1275.8" y="1756.25" width="232.02" height="33.08" fill="#BA7565"/>
<rect x="1275.8" y="1793.09" width="232.02" height="33.08" fill="#9DA1A4"/>
<rect x="1275.8" y="1829.93" width="309.36" height="33.08" fill="#97A4AD"/>
<rect x="1256.62" y="1529.95" width="425.08" height="338.15" fill="none" stroke="#7A7A7A" stroke-width="1.4" stroke-linejoin="round"/>
<text x="1248.6" y="1558.07" font-size="17.65" text-anchor="end" fill="#000">Alcoholic liver disease</text>
<text x="1248.6" y="1594.91" font-size="17.65" text-anchor="end" fill="#000">Transcriptional misregulation in cancer</text>
<text x="1248.6" y="1631.75" font-size="17.65" text-anchor="end" fill="#000">Retinol metabolism</text>
<text x="1248.6" y="1668.59" font-size="17.65" text-anchor="end" fill="#000">Acute myeloid leukemia</text>
<text x="1248.6" y="1705.43" font-size="17.65" text-anchor="end" fill="#000">Complement and coagulation cascades</text>
<text x="1248.6" y="1742.27" font-size="17.65" text-anchor="end" fill="#000">Circadian rhythm</text>
<text x="1248.6" y="1779.11" font-size="17.65" text-anchor="end" fill="#000">Chagas disease</text>
<text x="1248.6" y="1815.95" font-size="17.65" text-anchor="end" fill="#000">Apoptosis</text>
<text x="1248.6" y="1852.79" font-size="17.65" text-anchor="end" fill="#000">Ras signaling pathway</text>
<path d="M1252.02 1551.75h4.6M1252.02 1588.59h4.6M1252.02 1625.43h4.6M1252.02 1662.27h4.6M1252.02 1699.11h4.6M1252.02 1735.95h4.6M1252.02 1772.79h4.6M1252.02 1809.63h4.6M1252.02 1846.47h4.6" stroke="#1A1A1A" stroke-width="1.6" fill="none"/>
<text x="1275.8" y="1888.93" font-size="17.65" text-anchor="middle" fill="#000">0</text>
<text x="1353.14" y="1888.93" font-size="17.65" text-anchor="middle" fill="#000">1</text>
<text x="1430.48" y="1888.93" font-size="17.65" text-anchor="middle" fill="#000">2</text>
<text x="1507.82" y="1888.93" font-size="17.65" text-anchor="middle" fill="#000">3</text>
<text x="1585.16" y="1888.93" font-size="17.65" text-anchor="middle" fill="#000">4</text>
<text x="1662.5" y="1888.93" font-size="17.65" text-anchor="middle" fill="#000">5</text>
<path d="M1275.8 1868.1v4.6M1353.14 1868.1v4.6M1430.48 1868.1v4.6M1507.82 1868.1v4.6M1585.16 1868.1v4.6M1662.5 1868.1v4.6" stroke="#1A1A1A" stroke-width="1.6" fill="none"/>
<text x="1469.16" y="1908.52" font-size="17.65" text-anchor="middle" fill="#000">Count</text>
<rect x="1706" y="1647.3" width="25.66" height="126.7" fill="url(#grad)"/>
<path d="M1706 1774h5.13 M1726.53 1774h5.13" stroke="#fff" stroke-opacity="0.7" stroke-width="1" fill="none"/>
<text x="1739.6" y="1778.05" font-size="12.9" text-anchor="start" fill="#000">0.00</text>
<path d="M1706 1748.66h5.13 M1726.53 1748.66h5.13" stroke="#fff" stroke-opacity="0.7" stroke-width="1" fill="none"/>
<text x="1739.6" y="1752.71" font-size="12.9" text-anchor="start" fill="#000">0.01</text>
<path d="M1706 1723.32h5.13 M1726.53 1723.32h5.13" stroke="#fff" stroke-opacity="0.7" stroke-width="1" fill="none"/>
<text x="1739.6" y="1727.37" font-size="12.9" text-anchor="start" fill="#000">0.02</text>
<path d="M1706 1697.98h5.13 M1726.53 1697.98h5.13" stroke="#fff" stroke-opacity="0.7" stroke-width="1" fill="none"/>
<text x="1739.6" y="1702.03" font-size="12.9" text-anchor="start" fill="#000">0.03</text>
<path d="M1706 1672.64h5.13 M1726.53 1672.64h5.13" stroke="#fff" stroke-opacity="0.7" stroke-width="1" fill="none"/>
<text x="1739.6" y="1676.69" font-size="12.9" text-anchor="start" fill="#000">0.04</text>
<path d="M1706 1647.3h5.13 M1726.53 1647.3h5.13" stroke="#fff" stroke-opacity="0.7" stroke-width="1" fill="none"/>
<text x="1739.6" y="1651.35" font-size="12.9" text-anchor="start" fill="#000">0.05</text>
<text x="1705.8" y="1636.9" font-size="16.1" text-anchor="start" fill="#000">p.adjust</text>
</svg>
</body>
</html>
